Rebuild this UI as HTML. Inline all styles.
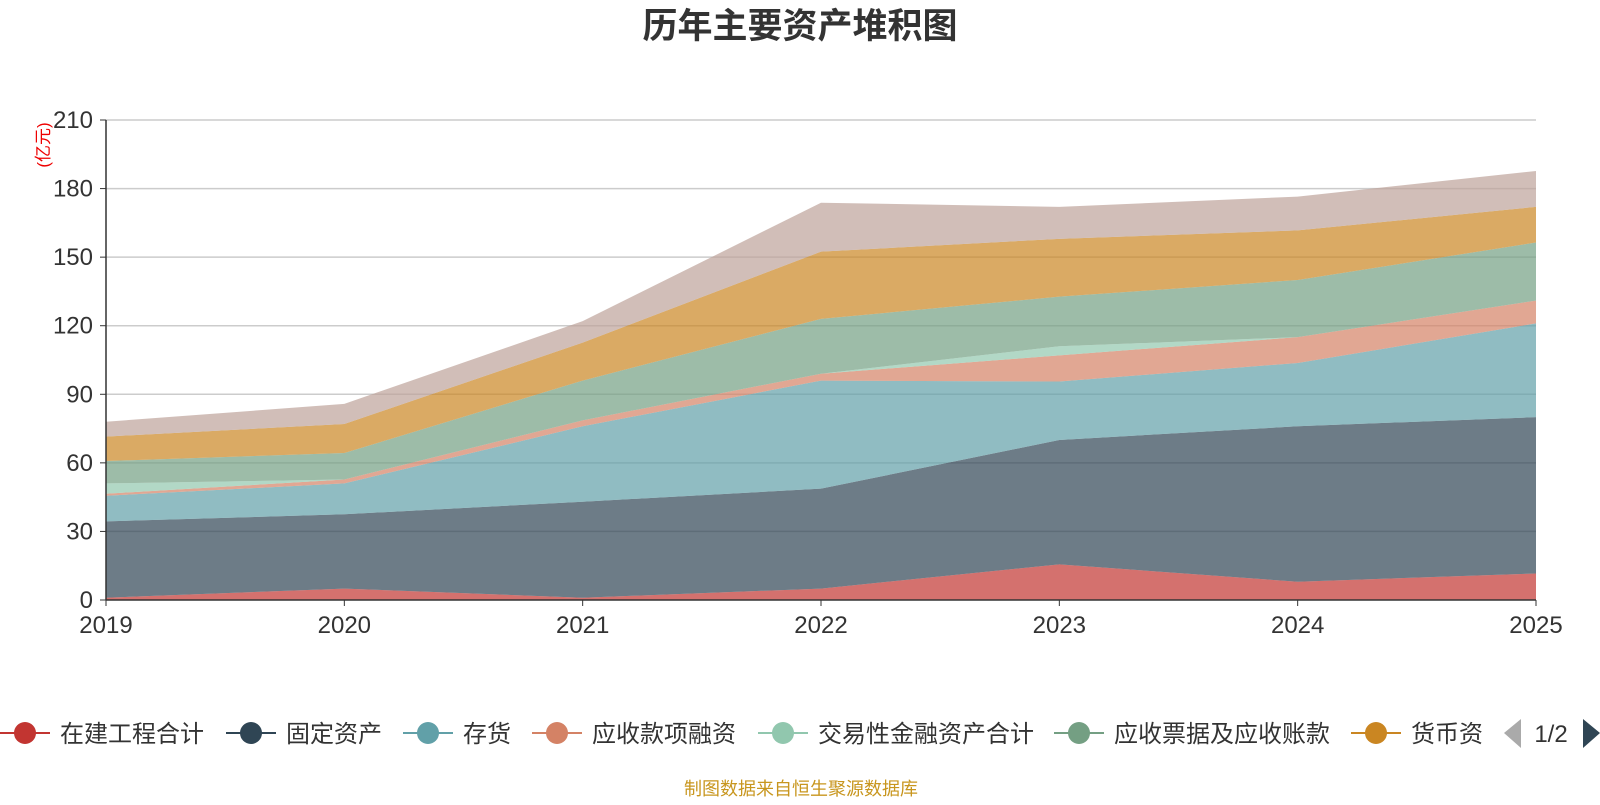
<!DOCTYPE html>
<html><head><meta charset="utf-8">
<style>
body{margin:0;background:#fff;width:1600px;height:800px;overflow:hidden;font-family:"Liberation Sans","Noto Sans CJK SC",sans-serif;}
</style></head>
<body>
<svg id="chart" width="1600" height="800" style="font-family:'Liberation Sans','Noto Sans CJK SC',sans-serif">
<text x="800" y="38" text-anchor="middle" font-size="35" font-weight="bold" fill="#333">历年主要资产堆积图</text>
<text transform="translate(49,145) rotate(-90)" text-anchor="middle" font-size="17" fill="#e00">(亿元)</text>
<g id="grid"></g><g id="areas"></g><g id="axes"></g><g id="legend"></g>
<text x="801" y="795" text-anchor="middle" font-size="18" fill="#c8961e">制图数据来自恒生聚源数据库</text>
</svg>
<script>
const years=["2019","2020","2021","2022","2023","2024","2025"];
const yTicks=[0,30,60,90,120,150,180,210];
const seriesNames=["在建工程合计","固定资产","存货","应收款项融资","交易性金融资产合计","应收票据及应收账款","货币资金","其他"];
const colors=["#c23531","#2f4554","#61a0a8","#d48265","#91c7ae","#749f83","#ca8622","#bda29a"];
const s1=[1,5,1,5,15.6,8,11.6];
const s2=[33.4,32.5,42,43.7,54.4,68,68.4];
const s3=[11.2,13.5,33,47.3,25.6,27.7,41];
const s4=[0.9,1.7,2.6,3,11.4,11.3,10];
const s5=[4.5,0,0,0,4,0,0];
const s6=[9.8,11.6,17.4,24,21.7,25,25.4];
const s7=[10.7,12.7,16.6,29.4,25.3,21.7,15.6];
const s8=[6.5,8.8,9.4,21.4,14,14.8,15.7];
const series=[s1,s2,s3,s4,s5,s6,s7,s8];
const x0=106,x1=1536,yb=600,yt=120,ymax=210;
const X=i=>x0+(x1-x0)*i/(years.length-1);
const Y=v=>yb-(yb-yt)*v/ymax;
const NS="http://www.w3.org/2000/svg";
function mk(tag,attrs,parent){const e=document.createElementNS(NS,tag);for(const k in attrs)e.setAttribute(k,attrs[k]);parent.appendChild(e);return e;}
const grid=document.getElementById('grid'),axes=document.getElementById('axes'),areas=document.getElementById('areas'),legend=document.getElementById('legend');
yTicks.forEach(t=>{
 if(t>0){const l=mk('line',{x1:x0,x2:x1,y1:Y(t),y2:Y(t),stroke:'#ccc','stroke-width':1.5},grid);
 
 }
 const tk=mk('line',{x1:x0-6,x2:x0,y1:Y(t),y2:Y(t),stroke:'#333'},axes);
 
 
 const tx=mk('text',{x:x0-13,y:Y(t)+8,'text-anchor':'end','font-size':24,fill:'#333'},axes);tx.textContent=t;
 
 
});
let base=years.map(()=>0);
series.forEach((s,k)=>{
 const top=base.map((b,i)=>b+s[i]);
 let d='M'+top.map((v,i)=>X(i)+','+Y(v)).join('L');
 for(let i=years.length-1;i>=0;i--)d+='L'+X(i)+','+Y(base[i]);
 const p=mk('path',{d:d+'Z',fill:colors[k],'fill-opacity':0.7,stroke:'none'},areas);
 
 
 base=top;
});
mk('line',{x1:x0,x2:x0,y1:yt,y2:yb,stroke:'#333','stroke-width':1.5},axes);
mk('line',{x1:x0,x2:x1,y1:yb,y2:yb,stroke:'#333','stroke-width':1.5},axes);
years.forEach((y,i)=>{
 mk('line',{x1:X(i),x2:X(i),y1:yb,y2:yb+6,stroke:'#333'},axes);
 const t=mk('text',{x:X(i),y:yb+33,'text-anchor':'middle','font-size':24,fill:'#333'},axes);t.textContent=y;
 
 
});
const legendNames=["在建工程合计","固定资产","存货","应收款项融资","交易性金融资产合计","应收票据及应收账款","货币资"];
const legendX=[0,226,403,532,758,1054,1351];
legendNames.forEach((n,k)=>{
 const g=mk('g',{},legend);
 
 
 const lx=legendX[k];
 mk('line',{x1:lx,x2:lx+50,y1:733,y2:733,stroke:colors[k],'stroke-width':2},g);
 mk('circle',{cx:lx+25,cy:733,r:11,fill:colors[k]},g);
 const t=mk('text',{x:lx+60,y:742,'font-size':24,fill:'#333'},g);t.textContent=n;
});
const pg=mk('g',{},legend);


mk('path',{d:'M1521,719L1504,733L1521,748Z',fill:'#aaa'},pg);
const pt=mk('text',{x:1551,y:742,'text-anchor':'middle','font-size':24,fill:'#333'},pg);pt.textContent='1/2';
mk('path',{d:'M1583,719L1600,733L1583,748Z',fill:'#2f4554'},pg);
</script>
</body></html>
